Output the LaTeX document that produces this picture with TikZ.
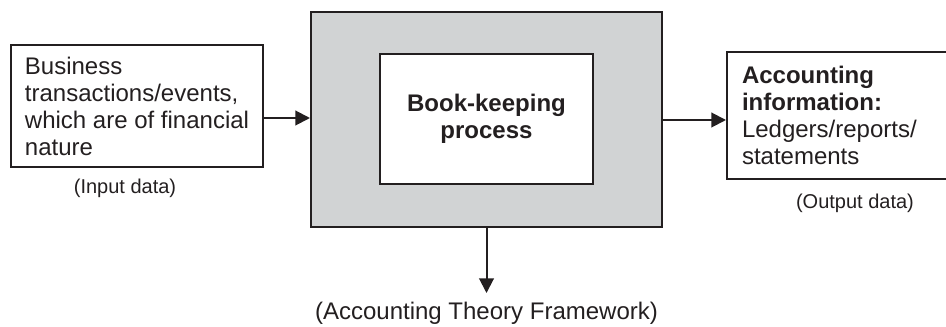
\documentclass[tikz,border=0pt]{standalone}
\usepackage{fontspec}
\setmainfont{Liberation Sans}
\usetikzlibrary{arrows.meta}
\definecolor{ink}{HTML}{231F20}
\definecolor{shade}{HTML}{D1D3D4}
\begin{document}
\begin{tikzpicture}[x=0.75pt,y=-0.75pt,
  box/.style={draw=ink,line width=1.5pt,inner sep=0pt,text=ink},
  big/.style={font=\fontsize{18}{20.25}\selectfont},
  small/.style={font=\fontsize{15}{18}\selectfont,text=ink},
  arr/.style={draw=ink,line width=1.5pt,-{Triangle[length=11pt,width=11pt]}}]
\clip (0,0) rectangle (946,327);
\node[box,big,align=left,minimum width=189pt,minimum height=91.5pt] (lbox) at (137,106)
  {Business\\transactions/events,\\which are of financial\\nature};
\node[small] (inlbl) at (125,188) {(Input data)};
\node[box,fill=shade,minimum width=263.25pt,minimum height=161.25pt] (gray) at (486.5,119.5) {};
\node[box,fill=white,big,align=center,minimum width=159.75pt,minimum height=97.5pt] (proc) at (486.5,119)
  {\textbf{Book-keeping}\\\textbf{process}};
\node[box,big,align=left,text width=150pt,inner xsep=11.25pt,minimum height=95.25pt] (rbox) at (842,115.5)
  {\textbf{Accounting}\\\textbf{information:}\\Ledgers/reports/\\statements};
\node[small] (outlbl) at (855,203) {(Output data)};
\node[big,text=ink,anchor=base,inner xsep=0pt,inner ysep=7pt] (atf) at (486.5,320) {(Accounting Theory Framework)};
\draw[arr] (lbox.east |- 0,118) -- (gray.west |- 0,118);
\draw[arr] (gray.east |- 0,120) -- (rbox.west |- 0,120);
\draw[arr] (gray.south) -- (atf.north);
\end{tikzpicture}
\end{document}
